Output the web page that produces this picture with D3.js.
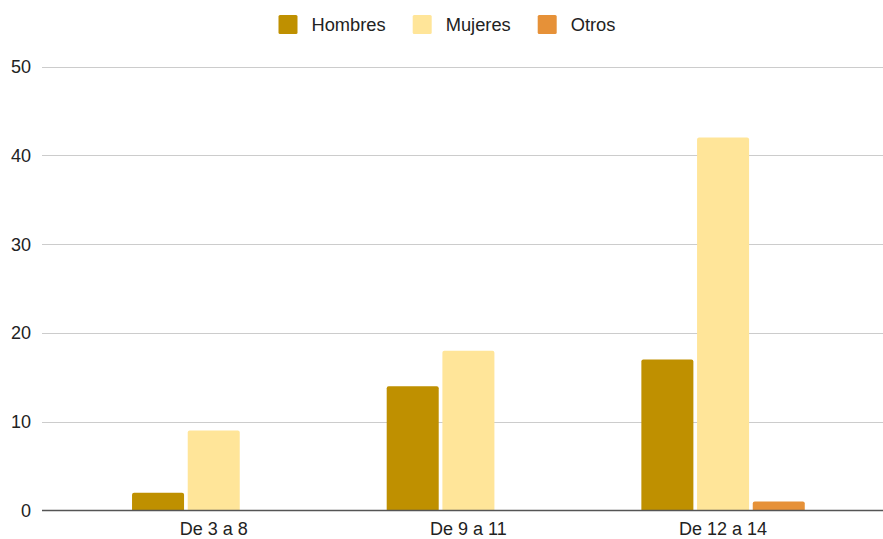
<!DOCTYPE html>
<html><head><meta charset="utf-8">
<script src="https://cdn.jsdelivr.net/npm/d3@7"></script>
<style>body{margin:0;background:#fff}svg{display:block}text{font-family:"Liberation Sans",Arial,sans-serif;fill:#222}</style>
</head><body>
<script>
const categories = ["De 3 a 8", "De 9 a 11", "De 12 a 14"];
const seriesNames = ["Hombres", "Mujeres", "Otros"];
const hombres = [2, 14, 17];
const mujeres = [9, 18, 42];
const otros = [0, 0, 1];
const yTicks = [0, 10, 20, 30, 40, 50];
const colors = ["#bf9000", "#ffe599", "#e69138"];

const W = 883, H = 539;
const seriesValues = [hombres, mujeres, otros];
const svg = d3.select("body").append("svg").attr("width", W).attr("height", H);

const y = d3.scaleLinear().domain([0, 50]).range([510.5, 66.5]);
const x0 = d3.scaleBand().domain(categories).range([86.4, 850.4]).paddingInner(0).paddingOuter(0);
const groupW = 163.4;
const x1 = d3.scaleBand().domain(seriesNames).range([0, groupW]).paddingInner(0.066);

// gridlines
svg.append("g").selectAll("line").data(yTicks.filter(d => d !== 0)).join("line")
  .attr("x1", 42).attr("x2", W).attr("y1", d => Math.round(y(d)) + 0.5).attr("y2", d => Math.round(y(d)) + 0.5)
  .attr("stroke", "#cccccc").attr("stroke-width", 1);

// y labels
svg.append("g").selectAll("text").data(yTicks).join("text")
  .attr("x", 31).attr("y", d => y(d)).attr("dy", "0.36em").attr("text-anchor", "end")
  .attr("font-size", 18).text(d => d);

// bars
const rows = [];
categories.forEach((c, i) => seriesNames.forEach((s, j) => rows.push({c, s, v: seriesValues[j][i], j})));
const r = 2;
svg.append("g").selectAll("path").data(rows.filter(d => d.v > 0)).join("path")
  .attr("fill", d => colors[d.j])
  .attr("d", d => {
    const bw = x1.bandwidth();
    const left = x0(d.c) + (x0.bandwidth() - groupW) / 2 + x1(d.s);
    const top = y(d.v), bot = y(0);
    return `M${left},${bot}V${top + r}Q${left},${top} ${left + r},${top}H${left + bw - r}Q${left + bw},${top} ${left + bw},${top + r}V${bot}Z`;
  });

// baseline
svg.append("line").attr("x1", 42).attr("x2", W).attr("y1", y(0)).attr("y2", y(0))
  .attr("stroke", "#555").attr("stroke-width", 1.5);

// x labels
svg.append("g").selectAll("text").data(categories).join("text")
  .attr("x", d => x0(d) + x0.bandwidth()/2).attr("y", 535).attr("text-anchor", "middle")
  .attr("font-size", 18).text(d => d);

// legend
const legX = [278.5, 412.7, 537.7];
const lg = svg.append("g").selectAll("g").data(seriesNames).join("g")
  .attr("transform", (d, i) => `translate(${legX[i]},15)`);
lg.append("rect").attr("width", 19).attr("height", 19).attr("rx", 1.5).attr("fill", (d, i) => colors[i]);
lg.append("text").attr("x", 33).attr("y", 16).attr("font-size", 18.3).text(d => d);
</script>
</body></html>
